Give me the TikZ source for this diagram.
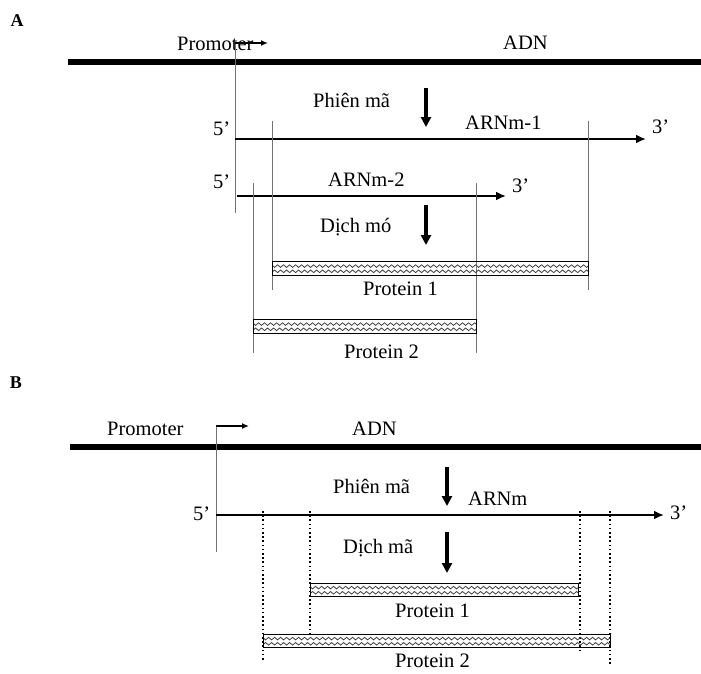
\documentclass[tikz,border=0pt]{standalone}
\usepackage{fontspec}
\setmainfont{Liberation Serif}
\usetikzlibrary{arrows.meta,decorations.pathmorphing}

\tikzset{
  lbl/.style={font=\fontsize{20.5}{24}\selectfont, inner sep=0pt, anchor=base west},
  panel/.style={font=\fontsize{18}{20}\selectfont\bfseries, inner sep=0pt},
  dna/.style={line width=6pt},
  rna/.style={line width=2.6pt, -{Latex[length=10pt,width=9pt]}},
  flow/.style={line width=4pt, -{Triangle[length=10pt,width=10pt]}},
  startarrow/.style={line width=1.3pt, -{Latex[length=7pt,width=6pt]}},
  guide/.style={draw=black!55, line width=1pt},
  dotguide/.style={line width=1.6pt, dash pattern=on 1.6pt off 2.6pt},
  barwave/.style={line width=0.8pt, black!75, decorate,
    decoration={snake, segment length=6pt, amplitude=1.3pt}},
  protbar/.style={draw, line width=1.4pt, inner sep=0pt, anchor=north west,
    minimum height=14pt,
    path picture={
      \draw[barwave] ([yshift=2.6pt,xshift=-3pt]path picture bounding box.west)
        -- ([yshift=2.6pt,xshift=3pt]path picture bounding box.east);
      \draw[barwave, decoration={snake, segment length=6pt, amplitude=1.3pt, mirror}]
        ([yshift=-2.6pt,xshift=-3pt]path picture bounding box.west)
        -- ([yshift=-2.6pt,xshift=3pt]path picture bounding box.east);
    }},
}

\begin{document}
\begin{tikzpicture}[x=1pt, y=-1pt]
\useasboundingbox (0,0) rectangle (701,673);

% ---------------- Panel A: two transcripts ----------------
\node[panel] (labA) at (17,21) {A};

\coordinate (dnaAl) at (68,62);
\coordinate (dnaAr) at (701,62);
\draw[dna] (dnaAl) -- (dnaAr);
\node[lbl] (promA) at (177,50) {Promoter};
\node[lbl] (adnA) at (503,49) {ADN};

% transcription start
\coordinate (tssAtop) at (235,43);
\coordinate (tssAbot) at (235,213);
\coordinate (tssAtip) at (268,43);
\draw[guide] (tssAtop) -- (tssAbot);
\draw[startarrow] (tssAtop) -- (tssAtip);

% transcription
\node[lbl] (txA) at (313,107) {Phiên mã};
\coordinate (txAa) at (426,88);
\coordinate (txAb) at (426,127);
\draw[flow] (txAa) -- (txAb);

% mRNA 1
\node[lbl] (m1lab) at (465,129) {ARNm-1};
\node[lbl] (m1five) at (213,135) {5’};
\node[lbl] (m1three) at (652,133) {3’};
\coordinate (m1a) at (235,139);
\coordinate (m1b) at (646,139);
\draw[rna] (m1a) -- (m1b);

% mRNA 2
\node[lbl] (m2lab) at (328,186) {ARNm-2};
\node[lbl] (m2five) at (213,188) {5’};
\node[lbl] (m2three) at (512,192) {3’};
\coordinate (m2a) at (237,196);
\coordinate (m2b) at (506,196);
\draw[rna] (m2a) -- (m2b);

% boundaries of the coding regions
\draw[guide] (272,121) -- (272,290);
\draw[guide] (588,121) -- (588,290);
\draw[guide] (253,183) -- (253,353);
\draw[guide] (476,183) -- (476,353);

% translation
\node[lbl] (tlA) at (320,232) {Dịch mó};
\coordinate (tlAa) at (426,205);
\coordinate (tlAb) at (426,245);
\draw[flow] (tlAa) -- (tlAb);

\node[protbar, minimum width=316pt] (p1A) at (272,261) {};
\node[lbl] (p1Alab) at (363,295) {Protein 1};
\node[protbar, minimum width=223pt] (p2A) at (253,319) {};
\node[lbl] (p2Alab) at (344,358) {Protein 2};

% ---------------- Panel B: one transcript ----------------
\node[panel] (labB) at (16,383) {B};

\coordinate (dnaBl) at (70,447);
\coordinate (dnaBr) at (701,447);
\draw[dna] (dnaBl) -- (dnaBr);
\node[lbl] (promB) at (107,435) {Promoter};
\node[lbl] (adnB) at (352,435) {ADN};

% transcription start
\coordinate (tssBtop) at (216,426);
\coordinate (tssBbot) at (216,552);
\coordinate (tssBtip) at (249,426);
\draw[guide] (tssBtop) -- (tssBbot);
\draw[startarrow] (tssBtop) -- (tssBtip);

% transcription
\node[lbl] (txB) at (333,493) {Phiên mã};
\coordinate (txBa) at (447,467);
\coordinate (txBb) at (447,506);
\draw[flow] (txBa) -- (txBb);

\node[lbl] (mBlab) at (468,505) {ARNm};
\node[lbl] (mBfive) at (193,520) {5’};
\node[lbl] (mBthree) at (670,519) {3’};
\coordinate (mBa) at (216,515);
\coordinate (mBb) at (664,515);
\draw[rna] (mBa) -- (mBb);

% coding region boundaries
\draw[dotguide] (263,511) -- (263,662);
\draw[dotguide] (310,511) -- (310,634);
\draw[dotguide] (580,511) -- (580,650);
\draw[dotguide] (610,511) -- (610,665);

% translation
\node[lbl] (tlB) at (343,553) {Dịch mã};
\coordinate (tlBa) at (447,532);
\coordinate (tlBb) at (447,573);
\draw[flow] (tlBa) -- (tlBb);

\node[protbar, minimum width=268pt, minimum height=13pt] (p1B) at (310,583) {};
\node[lbl] (p1Blab) at (395,617) {Protein 1};
\node[protbar, minimum width=347pt, minimum height=13pt] (p2B) at (263,634) {};
\node[lbl] (p2Blab) at (395,667) {Protein 2};
\end{tikzpicture}
\end{document}
